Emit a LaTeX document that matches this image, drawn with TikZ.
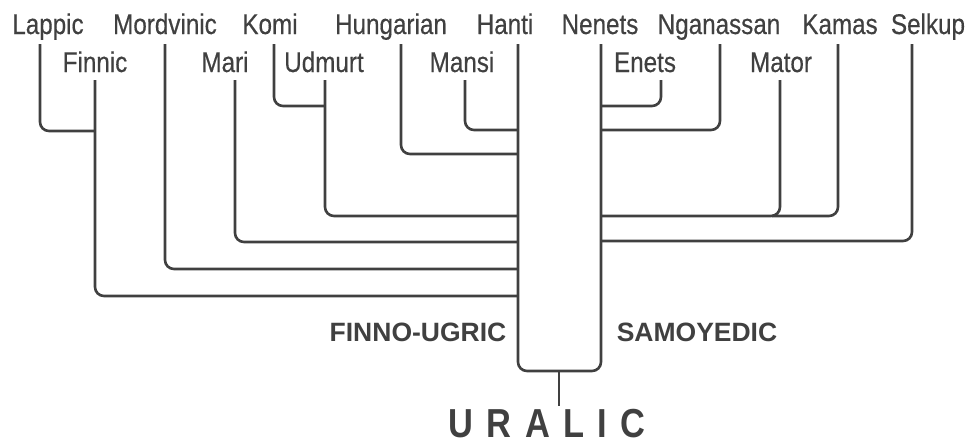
\documentclass[tikz,border=0pt]{standalone}
\usepackage{fontspec}
\setmainfont{Liberation Sans}
\newfontfamily\namefont{Liberation Sans}[FakeStretch=0.85,FakeBold=0.4]
\newfontfamily\rootfont{Liberation Sans Bold}[FakeStretch=0.85,LetterSpace=33]
\definecolor{ink}{RGB}{64,64,64}
\begin{document}
\begin{tikzpicture}[x=1pt,y=-1pt,
  lang/.style={anchor=base,inner sep=0pt,text=ink,font=\namefont\fontsize{28.5}{32}\selectfont},
  group/.style={anchor=base,inner sep=0pt,text=ink,font=\bfseries\fontsize{26.5}{30}\selectfont},
  rootlabel/.style={anchor=base,inner sep=0pt,text=ink,font=\rootfont\fontsize{40.5}{44}\selectfont},
  branch/.style={draw=ink,line width=2.6pt,rounded corners=9pt}]
\useasboundingbox (0,0) rectangle (974,445);
% row 1 (baseline 34)
\node[lang] (lappic)    at (48,34)  {Lappic};
\node[lang] (mordvinic) at (165,34) {Mordvinic};
\node[lang] (komi)      at (270,34) {Komi};
\node[lang] (hungarian) at (391,34) {Hungarian};
\node[lang] (hanti)     at (505,34) {Hanti};
\node[lang] (nenets)    at (600,34) {Nenets};
\node[lang] (nganassan) at (719,34) {Nganassan};
\node[lang] (kamas)     at (840,34) {Kamas};
\node[lang] (selkup)    at (928,34) {Selkup};
% row 2 (baseline 72)
\node[lang] (finnic) at (95,72)  {Finnic};
\node[lang] (mari)   at (225,72) {Mari};
\node[lang] (udmurt) at (324,72) {Udmurt};
\node[lang] (mansi)  at (462,72) {Mansi};
\node[lang] (enets)  at (645,72) {Enets};
\node[lang] (mator)  at (781,72) {Mator};
% group labels and root
\node[group] (fu)  at (418,341) {FINNO-UGRIC};
\node[group] (sam) at (697,341) {SAMOYEDIC};
\node[rootlabel] (uralic) at (547,437) {URALIC};
% junction points
\coordinate (jLappic) at (95,131);
\coordinate (jFinnic) at (518,296);
\coordinate (jMordvinic) at (518,269);
\coordinate (jMari) at (518,242);
\coordinate (jKomi) at (325,106);
\coordinate (jUdmurt) at (518,216);
\coordinate (jHungarian) at (518,154);
\coordinate (jMansi) at (518,130);
\coordinate (jEnets) at (600,106);
\coordinate (jNganassan) at (600,130);
\coordinate (jMator) at (600,216);
\coordinate (jKamas) at (772,216);
\coordinate (jSelkup) at (600,241);
\coordinate (boxL) at (518,371);
\coordinate (boxR) at (601,371);
\coordinate (stemTop) at (559,371);
% Finno-Ugric branches
\draw[branch] ([xshift=-8pt,yshift=-10pt]lappic.base) |- (jLappic);
\draw[branch] ([yshift=-8pt]finnic.base) |- (jFinnic);
\draw[branch] ([yshift=-10pt]mordvinic.base) |- (jMordvinic);
\draw[branch] ([xshift=10pt,yshift=-8pt]mari.base) |- (jMari);
\draw[branch] ([xshift=4pt,yshift=-10pt]komi.base) |- (jKomi);
\draw[branch] ([xshift=1pt,yshift=-8pt]udmurt.base) |- (jUdmurt);
\draw[branch] ([xshift=10pt,yshift=-10pt]hungarian.base) |- (jHungarian);
\draw[branch] ([xshift=3pt,yshift=-8pt]mansi.base) |- (jMansi);
% trunks forming the box
\draw[branch] ([xshift=13pt,yshift=-10pt]hanti.base) -- (boxL) -- (boxR) -- ([xshift=1pt,yshift=-10pt]nenets.base);
% Samoyedic branches
\draw[branch] ([xshift=16pt,yshift=-8pt]enets.base) |- (jEnets);
\draw[branch] ([xshift=1pt,yshift=-10pt]nganassan.base) |- (jNganassan);
\draw[branch] ([xshift=-1pt,yshift=-8pt]mator.base) |- (jMator);
\draw[branch] ([xshift=-2pt,yshift=-10pt]kamas.base) |- (jKamas);
\draw[branch] ([xshift=-16pt,yshift=-10pt]selkup.base) |- (jSelkup);
% root stem
\draw[draw=ink,line width=2.6pt] (stemTop) -- ([yshift=3pt]uralic.north -| stemTop);
\end{tikzpicture}
\end{document}
